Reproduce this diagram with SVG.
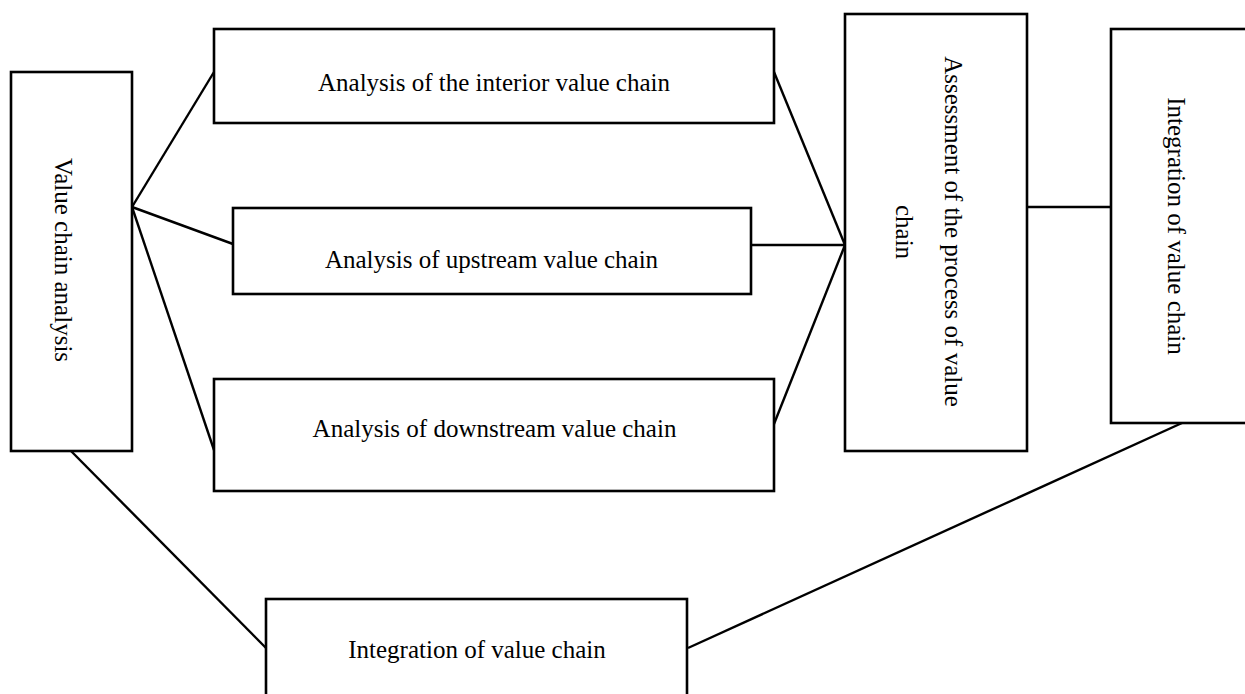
<svg xmlns="http://www.w3.org/2000/svg" width="1245" height="694" viewBox="0 0 1245 694">
<style>
.box{fill:#fff;stroke:#000;stroke-width:2.6}
.ln{stroke:#000;stroke-width:2.4;fill:none}
.t{font-family:"Liberation Serif","Times New Roman",serif;font-size:25px;fill:#000;text-anchor:middle}
</style>
<rect width="1245" height="694" fill="#fff"/>
<g id="connectors">
<line class="ln" x1="132" y1="207" x2="214" y2="72"/>
<line class="ln" x1="132" y1="207" x2="233" y2="244"/>
<line class="ln" x1="132" y1="207" x2="214" y2="450"/>
<line class="ln" x1="71" y1="451" x2="266" y2="648"/>
<line class="ln" x1="774" y1="72" x2="845" y2="245"/>
<line class="ln" x1="751" y1="245" x2="845" y2="245"/>
<line class="ln" x1="774" y1="424" x2="845" y2="245"/>
<line class="ln" x1="1027" y1="207" x2="1111" y2="207"/>
<line class="ln" x1="1182" y1="423" x2="688" y2="648"/>
</g>
<g id="value-chain-analysis">
<rect class="box" x="11" y="72" width="121" height="379"/>
<text class="t" transform="translate(55,260) rotate(90)">Value chain analysis</text>
</g>
<g id="interior">
<rect class="box" x="214" y="29" width="560" height="94"/>
<text class="t" x="494" y="91">Analysis of the interior value chain</text>
</g>
<g id="upstream">
<rect class="box" x="233" y="208" width="518" height="86"/>
<text class="t" x="491.5" y="268">Analysis of upstream value chain</text>
</g>
<g id="downstream">
<rect class="box" x="214" y="379" width="560" height="112"/>
<text class="t" x="494.5" y="437">Analysis of downstream value chain</text>
</g>
<g id="assessment">
<rect class="box" x="845" y="14" width="182" height="437"/>
<text class="t" transform="translate(945,231.5) rotate(90)">Assessment of the process of value</text>
<text class="t" transform="translate(896,232) rotate(90)">chain</text>
</g>
<g id="integration-right">
<rect class="box" x="1111" y="29" width="150" height="394"/>
<text class="t" transform="translate(1168,226) rotate(90)">Integration of value chain</text>
</g>
<g id="integration-bottom">
<rect class="box" x="266" y="599" width="421" height="110"/>
<text class="t" x="477" y="658">Integration of value chain</text>
</g>
</svg>
